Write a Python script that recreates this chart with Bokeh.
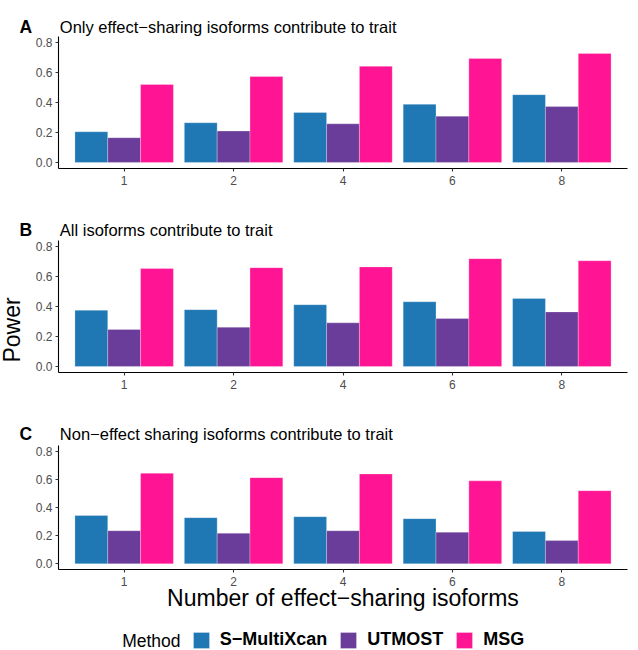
from math import pi

from bokeh.embed import file_html
from bokeh.layouts import column, row
from bokeh.models import (ColumnDataSource, FactorRange, FixedTicker, Label,
                          Legend, LegendItem, NumeralTickFormatter, Range1d)
from bokeh.plotting import figure
from bokeh.resources import INLINE
from bokeh.transform import dodge

# Number of effect-sharing isoforms (categorical x axis)
sizes = ["1", "2", "4", "6", "8"]
methods = ["S−MultiXcan", "UTMOST", "MSG"]
method_colors = ["#1F77B4", "#6A3D9A", "#FF1493"]
y_ticks = [0.0, 0.2, 0.4, 0.6, 0.8]

# Panel A: only effect-sharing isoforms contribute to trait
a_smultixcan = [0.205, 0.265, 0.333, 0.388, 0.452]
a_utmost = [0.165, 0.210, 0.258, 0.309, 0.373]
a_msg = [0.520, 0.573, 0.641, 0.694, 0.727]

# Panel B: all isoforms contribute to trait
b_smultixcan = [0.375, 0.379, 0.412, 0.432, 0.454]
b_utmost = [0.247, 0.262, 0.291, 0.320, 0.364]
b_msg = [0.653, 0.659, 0.664, 0.719, 0.705]

# Panel C: non-effect sharing isoforms contribute to trait
c_smultixcan = [0.343, 0.328, 0.335, 0.321, 0.230]
c_utmost = [0.235, 0.218, 0.235, 0.225, 0.165]
c_msg = [0.643, 0.612, 0.638, 0.589, 0.519]

FONT = "Liberation Sans"
W = 638
LEFT = 58      # left edge of every plotting frame
POWER_W = 28   # strip holding the shared y-axis title
COLS = ["smx", "utm", "msg"]
OFFSETS = [-0.3, 0.0, 0.3]
BAR_STYLE = dict(width=0.3, line_color="white", line_width=0.6, line_alpha=0.45)


def blank(width, height, x_range=None):
    """A figure with no axes whose frame fills the whole canvas."""
    p = figure(width=width, height=height,
               x_range=x_range if x_range is not None else Range1d(0, width),
               y_range=Range1d(0, height), x_axis_type=None,
               y_axis_type=None, output_backend="svg", toolbar_location=None,
               min_border=0, frame_align=False)
    p.outline_line_color = None
    p.xgrid.visible = False
    p.ygrid.visible = False
    return p


def text(p, x, y, s, size, style="normal", **kw):
    p.add_layout(Label(x=x, y=y, x_units="screen", y_units="screen", text=s,
                       text_font=FONT, text_font_size=size,
                       text_font_style=style, text_color="black", **kw))


def title_row(letter, title, height, baseline):
    p = blank(W, height)
    text(p, 19, baseline, letter, "17.5px", "bold", text_baseline="alphabetic")
    text(p, 59.3, baseline, title, "16.5px", text_baseline="alphabetic")
    return p


def bars(p, src, **kw):
    return [p.vbar(x=dodge("size", off, range=p.x_range), top=col,
                   source=src, fill_color=color, **BAR_STYLE, **kw)
            for col, off, color in zip(COLS, OFFSETS, method_colors)]


def panel(src, width, frame_h, bottom, left=LEFT):
    p = figure(width=width, height=frame_h + bottom,
               x_range=FactorRange(factors=sizes, range_padding=0.1,
                                   range_padding_units="absolute"),
               y_range=Range1d(-0.04, 0.84),
               output_backend="svg", toolbar_location=None,
               min_border_left=left, min_border_right=11,
               min_border_top=0, min_border_bottom=bottom, frame_align=False)
    p.outline_line_color = None
    p.xgrid.visible = False
    p.ygrid.visible = False
    bars(p, src)

    for ax in (p.xaxis[0], p.yaxis[0]):
        ax.axis_line_color = "black"
        ax.axis_line_width = 1.1
        ax.major_tick_line_color = "#333333"
        ax.major_tick_line_width = 1.1
        ax.major_tick_in = 0
        ax.major_tick_out = 3
        ax.minor_tick_line_color = None
        ax.major_label_text_color = "#4D4D4D"
        ax.major_label_text_font = FONT
        ax.major_label_text_font_size = "12px"
    p.yaxis.ticker = FixedTicker(ticks=y_ticks)
    p.yaxis.formatter = NumeralTickFormatter(format="0.0")
    p.yaxis.major_label_standoff = 3
    p.xaxis.major_label_standoff = 4
    return p


src_a = ColumnDataSource(dict(size=sizes, smx=a_smultixcan, utm=a_utmost, msg=a_msg))
src_b = ColumnDataSource(dict(size=sizes, smx=b_smultixcan, utm=b_utmost, msg=b_msg))
src_c = ColumnDataSource(dict(size=sizes, smx=c_smultixcan, utm=c_utmost, msg=c_msg))

ta = title_row("A", "Only effect−sharing isoforms contribute to trait", 36, 10)
pa = panel(src_a, W, 132, 32)

tb = title_row("B", "All isoforms contribute to trait", 40, 10.7)
pb = panel(src_b, W - POWER_W, 132, 32, left=LEFT - POWER_W)
# Shared y-axis title, set in a narrow strip beside the middle panel
power = blank(POWER_W, 164)
text(power, 11.5, 74.5, "Power", "23px", angle=pi / 2,
     text_align="center", text_baseline="alphabetic")

tc = title_row("C", "Non−effect sharing isoforms contribute to trait", 41, 11.7)
pc = panel(src_c, W, 124, 52)
pc.xaxis.axis_label = "Number of effect−sharing isoforms"
pc.xaxis.axis_label_text_font = FONT
pc.xaxis.axis_label_text_font_size = "23px"
pc.xaxis.axis_label_text_font_style = "normal"
pc.xaxis.axis_label_text_color = "black"
pc.xaxis.axis_label_standoff = -4

# Legend row: hidden copies of the panel C bars supply the swatch style
lg = blank(W, 29, x_range=FactorRange(factors=sizes))
hidden = bars(lg, src_c, visible=False)
legend = Legend(items=[LegendItem(label=m, renderers=[r])
                       for m, r in zip(methods, hidden)],
                orientation="horizontal", location=(190.7, 0),
                glyph_width=20, glyph_height=20, label_height=20,
                label_standoff=9, spacing=11, padding=0, margin=0,
                border_line_color=None, background_fill_alpha=0,
                label_text_font=FONT, label_text_font_size="18px",
                label_text_font_style="bold", label_text_color="black")
lg.add_layout(legend)
text(lg, 121.7, 10, "Method", "17.5px", text_baseline="middle")

layout = column(ta, pa, tb, row(power, pb, spacing=0), tc, pc, lg, spacing=0)
open("out.html", "w").write(file_html(layout, INLINE))
